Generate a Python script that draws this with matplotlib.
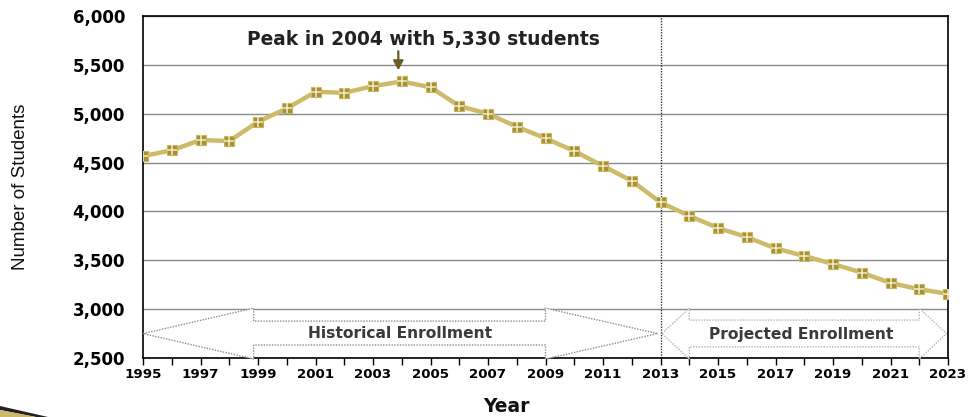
import matplotlib
matplotlib.use("Agg")
import matplotlib.pyplot as plt
from matplotlib.patches import Polygon
from matplotlib import font_manager

years = list(range(1995, 2024))
students = [4567, 4625, 4731, 4720, 4918, 5054, 5224, 5214, 5282, 5330,
            5271, 5078, 5000, 4867, 4748, 4618, 4465, 4313, 4092, 3955,
            3830, 3738, 3622, 3544, 3462, 3374, 3268, 3204, 3156]
ytick_vals = [2500, 3000, 3500, 4000, 4500, 5000, 5500, 6000]
xtick_labels_years = list(range(1995, 2024, 2))
peak_text = "Peak in 2004 with 5,330 students"
peak_year = 2004
split_year = 2013

names = {f.name for f in font_manager.fontManager.ttflist}
base = "Liberation Sans" if "Liberation Sans" in names else "DejaVu Sans"
wide = "DejaVu Sans"

W, H = 972, 417
fig = plt.figure(figsize=(W/100, H/100), dpi=100)
ax = fig.add_axes([143/W, 1-358/H, (948-143)/W, (358-16)/H])

ax.set_xlim(1995, 2023)
ax.set_ylim(2500, 6000)
ax.set_yticks(ytick_vals)
ax.set_yticklabels([f"{v:,}" for v in ytick_vals], fontfamily=wide,
                   fontweight="bold", fontsize=12)
ax.set_xticks(xtick_labels_years)
ax.set_xticklabels([str(y) for y in xtick_labels_years], fontfamily=wide,
                   fontweight="bold", fontsize=9.6)
ax.set_xticks(years, minor=True)
ax.tick_params(axis="y", length=0, pad=13)
ax.tick_params(axis="x", which="both", direction="out", length=5, width=1, pad=2)
for s in ax.spines.values():
    s.set_color("black")
    s.set_linewidth(1.2)

ax.grid(axis="y", color="#8a8a8a", linewidth=1)
ax.set_axisbelow(True)

ax.axvline(split_year, color="#333333", linestyle=(0, (1, 1)), linewidth=1, zorder=2)

line_col = "#cdbb6a"
ax.plot(years, students, color=line_col, linewidth=3.2, zorder=4,
        solid_joinstyle="round")
ax.plot(years, students, linestyle="none", marker="s", markersize=7.5,
        markerfacecolor="#a8912e", markeredgecolor="#c9b462", markeredgewidth=0.8, zorder=5)
ax.plot(years, students, linestyle="none", marker="+", markersize=7.5,
        markeredgecolor="#f2ecd0", markeredgewidth=1.1, zorder=6)

# Peak annotation
ax.annotate("", xy=(peak_year - 0.12, 5445), xytext=(peak_year - 0.12, 5640),
            arrowprops=dict(arrowstyle="-|>,head_width=0.3,head_length=0.55",
                            color="#6b5d2a", lw=1.6, shrinkA=0, shrinkB=0), zorder=7)
ax.text(2004.74, 5755, peak_text, ha="center", va="center",
        fontfamily=wide, fontweight="bold", fontsize=13.4, color="#222222")

# Historical enrollment double arrow
hist = [(1995, 2750), (1998.85, 3010), (1998.85, 2878), (2009.0, 2878),
        (2009.0, 3010), (2012.9, 2750), (2009.0, 2490), (2009.0, 2633),
        (1998.85, 2633), (1998.85, 2490)]
ax.add_patch(Polygon(hist, closed=True, fill=True, facecolor="white",
                     edgecolor="#8c8c8c", linestyle=(0, (1, 1)), linewidth=1,
                     zorder=3, clip_on=False))
ax.text(2003.94, 2755, "Historical Enrollment", ha="center", va="center",
        fontfamily=wide, fontweight="bold", fontsize=11.2, color="#3a3a3a", zorder=4)

# Projected enrollment double arrow
proj = [(2013.05, 2750), (2014.0, 3010), (2014.0, 2888), (2022.0, 2888),
        (2022.0, 3010), (2022.95, 2750), (2022.0, 2490), (2022.0, 2615),
        (2014.0, 2615), (2014.0, 2490)]
ax.add_patch(Polygon(proj, closed=True, fill=True, facecolor="white",
                     edgecolor="#b5b5b5", linestyle=(0, (1, 1)), linewidth=1,
                     zorder=3, clip_on=False))
ax.text(2017.9, 2745, "Projected Enrollment", ha="center", va="center",
        fontfamily=wide, fontweight="bold", fontsize=11.2, color="#3a3a3a", zorder=4)

fig.text(506/W, 1-406/H, "Year", ha="center", va="center",
         fontfamily=wide, fontweight="bold", fontsize=13.5, color="#111111")
fig.text(21/W, 1-187/H, "Number of Students", ha="center", va="center",
         rotation=90, fontfamily=base, fontsize=13.5, color="#111111")

# bottom-left decoration
fig.add_artist(Polygon([(0, 1-406/H), (48/W, 0), (36/W, 0), (0, 1-410/H)],
                       closed=True, transform=fig.transFigure,
                       facecolor="#222222", edgecolor="none"))
fig.add_artist(Polygon([(0, 1-410/H), (36/W, 0), (0, 0)],
                       closed=True, transform=fig.transFigure,
                       facecolor="#cdb96a", edgecolor="none"))

fig.savefig("out.png", dpi=100)
